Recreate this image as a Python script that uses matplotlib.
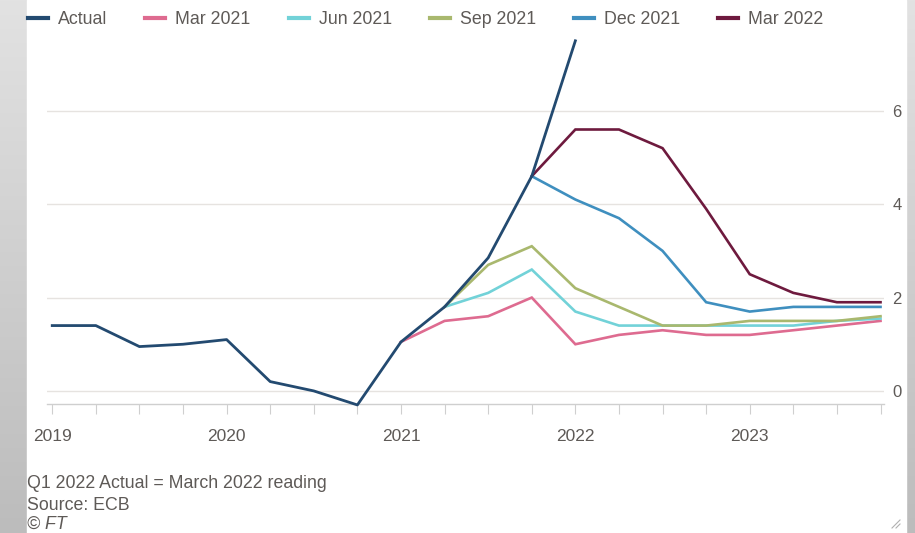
import matplotlib
matplotlib.use("Agg")
import matplotlib.pyplot as plt
import numpy as np
from matplotlib.lines import Line2D
from matplotlib.patches import Rectangle
from matplotlib.colors import LinearSegmentedColormap

plt.rcParams['font.family'] = ['Liberation Sans', 'DejaVu Sans']

# ---------------- data ----------------
quarters = [2019 + 0.25 * i for i in range(20)]  # 2019Q1 .. 2023Q4
year_ticks = [2019, 2020, 2021, 2022, 2023]
year_labels = ['2019', '2020', '2021', '2022', '2023']
y_ticks = [0, 2, 4, 6]

actual_x = quarters[0:13]
actual = [1.4, 1.4, 0.95, 1.0, 1.1, 0.2, 0.0, -0.3, 1.05, 1.8, 2.85, 4.6, 7.5]

mar21_x = quarters[8:20]
mar21 = [1.05, 1.5, 1.6, 2.0, 1.0, 1.2, 1.3, 1.2, 1.2, 1.3, 1.4, 1.5]

jun21_x = quarters[9:20]
jun21 = [1.8, 2.1, 2.6, 1.7, 1.4, 1.4, 1.4, 1.4, 1.4, 1.5, 1.55]

sep21_x = quarters[9:20]
sep21 = [1.8, 2.7, 3.1, 2.2, 1.8, 1.4, 1.4, 1.5, 1.5, 1.5, 1.6]

dec21_x = quarters[11:20]
dec21 = [4.6, 4.1, 3.7, 3.0, 1.9, 1.7, 1.8, 1.8, 1.8]

mar22_x = quarters[11:20]
mar22 = [4.6, 5.6, 5.6, 5.2, 3.9, 2.5, 2.1, 1.9, 1.9]

series = [
    ('Actual', actual_x, actual, '#234a70'),
    ('Mar 2021', mar21_x, mar21, '#de6b90'),
    ('Jun 2021', jun21_x, jun21, '#72d2d8'),
    ('Sep 2021', sep21_x, sep21, '#a9b86e'),
    ('Dec 2021', dec21_x, dec21, '#3f8fbf'),
    ('Mar 2022', mar22_x, mar22, '#6e1a3e'),
]

text_col = '#5e5a57'
grid_col = '#e6e3e0'

# ---------------- figure ----------------
W, H = 915, 533
fig = plt.figure(figsize=(W / 100, H / 100), dpi=100)

# grey backdrop with gradient
bg = fig.add_axes([0, 0, 1, 1], zorder=-10)
grad = np.linspace(0, 1, 256).reshape(-1, 1)
cmap = LinearSegmentedColormap.from_list('g', ['#e2e2e2', '#bcbcbc'])
bg.imshow(grad, aspect='auto', cmap=cmap, extent=[0, 1, 0, 1], origin='upper')
bg.add_patch(Rectangle((27 / W, 0), (906 - 27) / W, 1, color='white', zorder=2))
# resize handle
for d in (4, 8):
    bg.plot([(900 - d) / W, 900 / W], [(533 - 528) / H, (533 - 528 + d) / H],
            color='#b0b0b0', lw=0.8, zorder=3)
bg.set_xlim(0, 1)
bg.set_ylim(0, 1)
bg.axis('off')

left, right = 47 / W, 884 / W
bottom, top = (H - 404) / H, (H - 38) / H
ax = fig.add_axes([left, bottom, right - left, top - bottom])
ax.set_facecolor('none')

for name, xs, ys, col in series[1:]:
    ax.plot(xs, ys, color=col, lw=1.9, solid_joinstyle='miter', zorder=3)
name, xs, ys, col = series[0]
ax.plot(xs, ys, color=col, lw=2.0, zorder=4, clip_on=False)

ax.set_xlim(2018.97, 2023.77)
ax.set_ylim(-0.28, 7.56)

for s in ['top', 'right', 'left']:
    ax.spines[s].set_visible(False)
ax.spines['bottom'].set_color('#cfcfcf')
ax.spines['bottom'].set_linewidth(1)

ax.set_xticks(quarters)
ax.set_xticklabels([str(int(q)) if q in year_ticks else '' for q in quarters])
ax.tick_params(axis='x', length=7, width=0.8, color='#cfcfcf', pad=11,
               labelsize=12.5, labelcolor=text_col)

ax.yaxis.tick_right()
ax.set_yticks(y_ticks)
ax.set_yticklabels([str(v) for v in y_ticks])
ax.tick_params(axis='y', length=0, pad=6, labelsize=12, labelcolor=text_col)
ax.grid(axis='y', color=grid_col, lw=1)
ax.set_axisbelow(True)

# legend
handles = [Line2D([0], [0], color=c, lw=3) for _, _, _, c in series]
labels = [n for n, _, _, _ in series]
fig.legend(handles, labels, ncol=6, loc='upper left',
           bbox_to_anchor=(28 / W, 1 - 11 / H), frameon=False,
           handlelength=1.12, handletextpad=0.56, columnspacing=2.15,
           borderpad=0, borderaxespad=0, fontsize=12.8, labelcolor=text_col)

# footnotes
fig.text(27 / W, 1 - 483 / H, 'Q1 2022 Actual = March 2022 reading', fontsize=12.8,
         color=text_col, va='center', ha='left')
fig.text(27 / W, 1 - 505 / H, 'Source: ECB', fontsize=12.8,
         color=text_col, va='center', ha='left')
fig.text(27 / W, 1 - 524 / H, '© FT', fontsize=12.8, style='italic',
         color=text_col, va='center', ha='left')

fig.savefig('out.png', dpi=100)
